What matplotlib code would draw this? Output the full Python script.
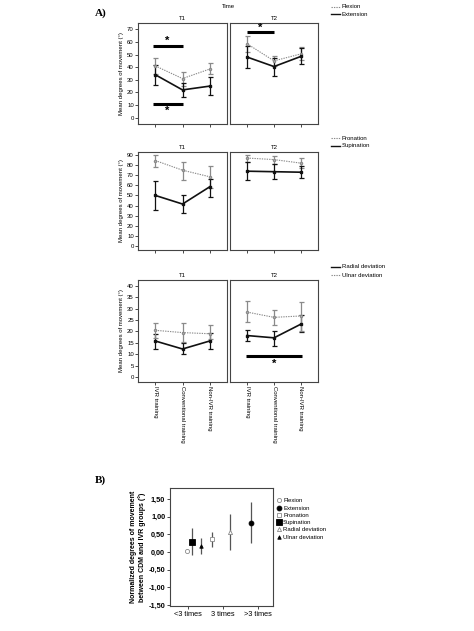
import matplotlib
matplotlib.use("Agg")
import matplotlib.pyplot as plt
from matplotlib.lines import Line2D

W, H = 474, 631
plt.rcParams['font.family'] = ['Liberation Sans', 'DejaVu Sans']

groups = ["IVR training", "Conventional training", "Non-IVR training"]
times = ["T1", "T2"]

# Panel A1: flexion / extension (mean, lower, upper) per time
flex_mean = {"T1": [41, 31, 38.5], "T2": [58.5, 45, 50.5]}
flex_lo = {"T1": [35, 25, 34.5], "T2": [52, 41, 46]}
flex_hi = {"T1": [47.5, 36.5, 43.5], "T2": [64.5, 49, 56]}
ext_mean = {"T1": [34, 22, 25], "T2": [48, 40.5, 48.5]}
ext_lo = {"T1": [26, 16, 18], "T2": [39, 33, 42.5]}
ext_hi = {"T1": [42, 27.5, 32.5], "T2": [57, 47.5, 55]}

# Panel A2: pronation / supination
pro_mean = {"T1": [84.5, 75, 68.5], "T2": [87, 85.5, 82]}
pro_lo = {"T1": [78.5, 65.5, 57], "T2": [83, 81, 77]}
pro_hi = {"T1": [90, 83, 79.5], "T2": [90.5, 89, 87]}
sup_mean = {"T1": [50, 41.5, 58.5], "T2": [74, 73.5, 73]}
sup_lo = {"T1": [36, 32.5, 48.5], "T2": [65.5, 66, 67.5]}
sup_hi = {"T1": [64, 50.5, 66.5], "T2": [83, 81.5, 79]}

# Panel A3: radial / ulnar deviation
rad_mean = {"T1": [15.8, 12.3, 15.8], "T2": [18.2, 17.2, 23.2]}
rad_lo = {"T1": [12.5, 10, 12.5], "T2": [15.8, 13.7, 19.6]}
rad_hi = {"T1": [19, 14.8, 19.5], "T2": [20.6, 20.2, 27.2]}
uln_mean = {"T1": [20.5, 19.5, 19], "T2": [28.5, 26.2, 26.8]}
uln_lo = {"T1": [17.2, 15.2, 16.5], "T2": [24.2, 22.8, 20]}
uln_hi = {"T1": [23.8, 23.8, 22.8], "T2": [33.3, 29.4, 32.8]}

# Panel B
b_categories = ["<3 times", "3 times", ">3 times"]
b_series = ["Flexion", "Extension", "Pronation", "Supination", "Radial deviation", "Ulnar deviation"]
b_cat_index = [0, 2, 1, 0, 1, 0]
b_offset = [-0.04, -0.2, -0.31, 0.1, 0.2, 0.37]
b_mean = [0.03, 0.83, 0.36, 0.29, 0.57, 0.16]
b_lo = [-0.01, 0.24, 0.14, -0.09, 0.05, -0.07]
b_hi = [0.08, 1.41, 0.56, 0.67, 1.08, 0.39]
b_yticks = [-1.5, -1.0, -0.5, 0.0, 0.5, 1.0, 1.5]

fig = plt.figure(figsize=(W / 100, H / 100), dpi=100)

def rect(l, t, r, b):
    return [l / W, 1 - b / H, (r - l) / W, (b - t) / H]

FS = 4.3
GREY = '#8a8a8a'
DOT = (0, (1.2, 1.0))

def style(ax, ylim, yticks, first, xlabels):
    ax.set_xlim(-0.64, 2.64)
    ax.set_ylim(*ylim)
    for s in ax.spines.values():
        s.set_color('#444444')
        s.set_linewidth(0.8)
    ax.set_xticks(range(3))
    ax.tick_params(axis='both', length=2, width=0.5, pad=1, labelsize=FS)
    if xlabels:
        ax.set_xticklabels(groups, rotation=270, fontsize=FS, va='top', ha='center')
    else:
        ax.set_xticklabels([])
    if first:
        ax.set_yticks(yticks)
        ax.set_ylabel("Mean degrees of movement (°)", fontsize=FS, labelpad=2)
    else:
        ax.set_yticks([])

def draw_series(ax, m, lo, hi, solid):
    x = list(range(3))
    yerr = [[mm - l for mm, l in zip(m, lo)], [h - mm for mm, h in zip(m, hi)]]
    if solid:
        ax.errorbar(x, m, yerr=yerr, color='#111111', lw=1.2, elinewidth=0.9,
                    capsize=1.8, capthick=0.9, marker='s', ms=1.5)
    else:
        ax.errorbar(x, m, yerr=yerr, color=GREY, lw=0.8, ls=DOT, elinewidth=0.9,
                    capsize=1.8, capthick=0.9, marker='o', ms=1.5, mfc='white')

panels = [
    ((23, 124), (-5, 75), list(range(0, 71, 10)), [(flex_mean, flex_lo, flex_hi, False), (ext_mean, ext_lo, ext_hi, True)], False),
    ((152, 250), (-4, 93), list(range(0, 91, 10)), [(pro_mean, pro_lo, pro_hi, False), (sup_mean, sup_lo, sup_hi, True)], False),
    ((280, 382), (-2.2, 42.6), list(range(0, 41, 5)), [(rad_mean, rad_lo, rad_hi, True), (uln_mean, uln_lo, uln_hi, False)], True),
]

axes = []
for (top, bot), ylim, yt, series, xl in panels:
    row = []
    for i, t in enumerate(times):
        l, r = (138, 227) if i == 0 else (230, 318)
        ax = fig.add_axes(rect(l, top, r, bot))
        style(ax, ylim, yt, i == 0, xl)
        for m, lo, hi, solid in series:
            draw_series(ax, m[t], lo[t], hi[t], solid)
        ax.set_title(t, fontsize=FS, pad=2)
        row.append(ax)
    axes.append(row)

# significance bars
STAR = dict(ha='center', va='center', fontsize=8, fontweight='bold')
a = axes[0][0]
a.plot([-0.1, 1.0], [57, 57], color='black', lw=2.2, solid_capstyle='butt')
a.text(0.45, 61, "*", **STAR)
a.plot([-0.1, 1.0], [10.6, 10.6], color='black', lw=2.2, solid_capstyle='butt')
a.text(0.45, 5.5, "*", **STAR)
a = axes[0][1]
a.plot([0.0, 1.0], [68, 68], color='black', lw=2.2, solid_capstyle='butt')
a.text(0.5, 71.5, "*", **STAR)
a = axes[2][1]
a.plot([-0.05, 2.05], [9.1, 9.1], color='black', lw=2.2, solid_capstyle='butt')
a.text(1.0, 5.8, "*", **STAR)

fig.text(228 / W, 1 - 7 / H, "Time", fontsize=FS, ha='center', va='center')
fig.text(95 / W, 1 - 13 / H, "A)", fontsize=8, fontweight='bold', family='Liberation Serif', ha='left', va='center')
fig.text(95 / W, 1 - 480 / H, "B)", fontsize=8, fontweight='bold', family='Liberation Serif', ha='left', va='center')

def line_legend(y1, y2, lab1, sty1, lab2, sty2):
    for y, lab, solid in ((y1, lab1, sty1), (y2, lab2, sty2)):
        yy = 1 - y / H
        if solid:
            fig.add_artist(Line2D([331 / W, 340 / W], [yy, yy], color='#111111', lw=1.0))
        else:
            fig.add_artist(Line2D([331 / W, 340 / W], [yy, yy], color=GREY, lw=0.8, ls=DOT))
        fig.text(342 / W, yy, lab, fontsize=FS, va='center', ha='left')

line_legend(7, 14, "Flexion", False, "Extension", True)
line_legend(138, 146, "Pronation", False, "Supination", True)
line_legend(267, 275, "Radial deviation", True, "Ulnar deviation", False)

# Panel B
axb = fig.add_axes(rect(170, 488, 273, 606))
axb.set_xlim(-0.52, 2.43)
axb.set_ylim(-1.53, 1.81)
markers = [('o', 'white', GREY, 3), ('o', 'black', 'black', 3.5), ('s', 'white', GREY, 3),
           ('s', 'black', 'black', 4), ('^', 'white', GREY, 3), ('^', 'black', 'black', 2.5)]
handles = []
for k, name in enumerate(b_series):
    x = b_cat_index[k] + b_offset[k]
    mk, fc, ec, ms = markers[k]
    axb.errorbar([x], [b_mean[k]], yerr=[[b_mean[k] - b_lo[k]], [b_hi[k] - b_mean[k]]],
                 fmt='none', ecolor='#555555', elinewidth=0.9, capsize=0)
    axb.plot([x], [b_mean[k]], marker=mk, mfc=fc, mec=ec, ms=ms, mew=0.6, ls='none', zorder=3)
    handles.append(Line2D([], [], marker=mk, mfc=fc, mec=ec, ms=ms, mew=0.6, ls='none', label=name))
axb.set_xticks(range(3))
axb.set_xticklabels(b_categories, fontsize=5.3)
axb.set_yticks(b_yticks)
axb.set_yticklabels([f"{v:.2f}".replace('.', ',') for v in b_yticks], fontsize=5.3, fontweight='bold')
axb.tick_params(axis='both', length=2, width=0.5, pad=1.5)
for s in axb.spines.values():
    s.set_color('#444444')
    s.set_linewidth(0.8)
axb.set_ylabel("Normalized degrees of movement\nbetween CDM and IVR groups (°)", fontsize=5, fontweight='bold',
               labelpad=2, linespacing=1.1)
fig.legend(handles=handles, loc='upper left', bbox_to_anchor=(273 / W, 1 - 494 / H), frameon=False,
           fontsize=4.3, handlelength=0.6, handletextpad=0.4, labelspacing=0.35, borderpad=0.2)

fig.savefig("out.png", dpi=100)
